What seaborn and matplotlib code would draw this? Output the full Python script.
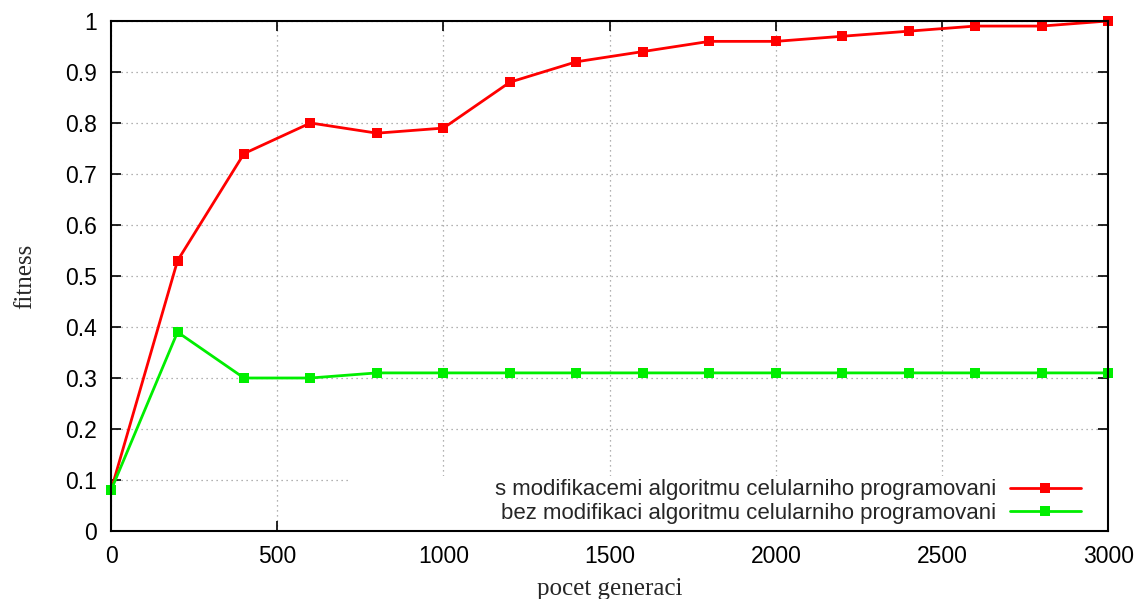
import seaborn as sns
import pandas as pd
import matplotlib.pyplot as plt
from matplotlib.patches import Rectangle

generace = [0, 200, 400, 600, 800, 1000, 1200, 1400, 1600, 1800, 2000, 2200, 2400, 2600, 2800, 3000]
s_modifikacemi = [0.08, 0.53, 0.74, 0.80, 0.78, 0.79, 0.88, 0.92, 0.94, 0.96, 0.96, 0.97, 0.98, 0.99, 0.99, 1.0]
bez_modifikaci = [0.08, 0.39, 0.30, 0.30, 0.31, 0.31, 0.31, 0.31, 0.31, 0.31, 0.31, 0.31, 0.31, 0.31, 0.31, 0.31]
lab_s = "s modifikacemi algoritmu celularniho programovani"
lab_bez = "bez modifikaci algoritmu celularniho programovani"

df = pd.DataFrame({
    'gen': generace * 2,
    'fitness': s_modifikacemi + bez_modifikaci,
    'serie': [lab_s] * len(generace) + [lab_bez] * len(generace),
})

sns.set_style("ticks")
plt.rcParams['font.family'] = ['Liberation Sans', 'DejaVu Sans']

fig = plt.figure(figsize=(11.39, 5.99), dpi=100)
ax = fig.add_axes([0.0975, 0.1135, 0.8755, 0.8515])
ax.set_axisbelow(True)
sns.lineplot(data=df, x='gen', y='fitness', hue='serie', style='serie',
             markers=['s', 's'], dashes=False, palette=['#ff0000', '#00ee00'],
             linewidth=2, markersize=7, markeredgewidth=0, ax=ax, zorder=3,
             clip_on=False)

ax.set_xlim(0, 3000)
ax.set_ylim(0, 1)
ax.set_xticks(range(0, 3001, 500))
ax.set_yticks([i / 10 for i in range(11)])
ax.set_yticklabels(['0', '0.1', '0.2', '0.3', '0.4', '0.5', '0.6', '0.7', '0.8', '0.9', '1'])
ax.grid(True, color='#999999', linestyle=(0, (1, 3)), linewidth=0.9)
ax.tick_params(direction='in', length=7, width=1.2, labelsize=16.5, top=True, right=True,
               colors='black', pad=10)
for sp in ax.spines.values():
    sp.set_linewidth(1.5)
    sp.set_color('black')
    sp.set_zorder(4)

# white key area like gnuplot (hides grid behind the legend)
ax.add_patch(Rectangle((0.238, 0.0), 0.762, 0.108, transform=ax.transAxes,
                       facecolor='white', edgecolor='none', zorder=1))

ax.set_xlabel('pocet generaci', family='Liberation Serif', fontsize=18, labelpad=7)
ax.set_ylabel('fitness', family='Liberation Serif', fontsize=18, labelpad=21)

leg = ax.legend(loc='lower right', bbox_to_anchor=(0.977, 0.006), markerfirst=False,
                frameon=False, fontsize=16, handlelength=3.2, borderaxespad=0.0,
                labelspacing=0.1, handletextpad=0.6, borderpad=0.2)
for t in leg.get_texts():
    t.set_horizontalalignment('right')
leg._legend_box.align = 'right'

fig.savefig('out.png', dpi=100)
